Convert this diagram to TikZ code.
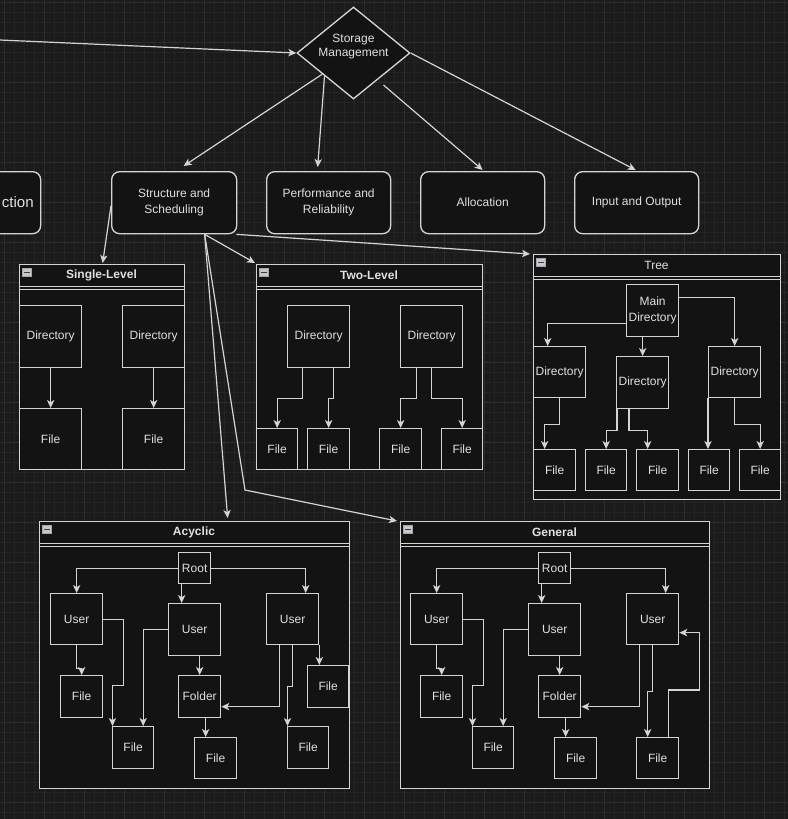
\documentclass[tikz,border=0pt]{standalone}
\usepackage{fontspec}
\setmainfont{Liberation Sans}
\usetikzlibrary{shapes.geometric,arrows.meta,calc}
\definecolor{bg}{HTML}{1B1B1B}
\definecolor{gridminor}{HTML}{242424}
\definecolor{gridmajor}{HTML}{2D2D2D}
\definecolor{fillc}{HTML}{131313}
\definecolor{linec}{HTML}{D4D4D4}
\definecolor{textc}{HTML}{E0E0E0}
\definecolor{iconc}{HTML}{C3C8D1}
\newcommand{\mkbox}[7][box]{\node[#1, minimum width=#5*0.75pt, minimum height=#6*0.75pt] (#2) at (#3,#4) {#7};}
\tikzset{
  every node/.style={text=textc, font=\fontsize{9}{10.8}\selectfont},
  box/.style={draw=linec, fill=fillc, line width=1pt, inner sep=0pt, anchor=north west, align=center},
  rbox/.style={box, rounded corners=6pt},
  cont/.style={draw=linec, fill=fillc, line width=1pt, anchor=north west, inner sep=0pt},
  hdr/.style={font=\bfseries\fontsize{9}{10.8}\selectfont},
  hdrn/.style={font=\fontsize{9}{10.8}\selectfont},
  sepl/.style={draw=linec, line width=0.65pt},
  icon/.style={rectangle, fill=iconc, draw=gray!70, line width=0.4pt, minimum width=6.5pt, minimum height=6pt, inner sep=0pt,
    path picture={\draw[black!75, line width=0.9pt] ($(path picture bounding box.west)+(1.3pt,0)$) -- ($(path picture bounding box.east)+(-1.3pt,0)$);}},
  arr/.style={draw=linec, line width=0.9pt, -{Stealth[length=6pt,width=5.5pt,inset=1.6pt]}},
}
\begin{document}
\begin{tikzpicture}[x=0.75pt,y=-0.75pt]
\useasboundingbox (0,0) rectangle (788,819);
\clip (0,0) rectangle (788,819);
\fill[bg] (0,0) rectangle (788,819);
\foreach \i in {4,14,...,788} \draw[gridminor, line width=0.4pt] (\i,0) -- (\i,819);
\foreach \j in {2,12,...,819} \draw[gridminor, line width=0.4pt] (0,\j) -- (788,\j);
\foreach \i in {4,44,...,788} \draw[gridmajor, line width=0.5pt] (\i,0) -- (\i,819);
\foreach \j in {2,42,...,819} \draw[gridmajor, line width=0.5pt] (0,\j) -- (788,\j);

% top diamond
\node[diamond, draw=linec, fill=fillc, line width=1pt, minimum width=113*0.75pt, minimum height=92*0.75pt, inner sep=0pt] (sm) at (353.5,53) {};
\node[align=center] (smt) at (353.5,46.5) {Storage\\Management};
\coordinate (inL) at (0,40);
\draw[arr] (inL) -- (sm.west);

% rounded boxes
\mkbox[rbox]{pm}{-85}{171}{125}{62}{}
\node[anchor=east, inner sep=0pt, font=\fontsize{11.3}{13}\selectfont] (pmt) at (34,202) {ction};
\mkbox[rbox]{ss}{111}{171}{125}{62}{Structure and\\[1pt]Scheduling}
\mkbox[rbox]{pr}{266}{171}{124}{62}{Performance and\\[1pt]Reliability}
\mkbox[rbox]{al}{420}{171}{124}{62}{Allocation}
\mkbox[rbox]{io}{574}{171}{124}{62}{Input and Output}

\draw[arr] ($(sm.center)+(-31,21)$) -- ($(ss.north)+(9.5,-5)$);
\draw[arr] ($(sm.center)+(-29,23)$) -- ($(pr.north)+(-11,-4)$);
\draw[arr] ($(sm.center)+(30,32)$) -- ($(al.north)+(0,-1)$);
\draw[arr] (sm.east) -- ($(io.north)+(-1,-1)$);

% Single-Level
\mkbox[cont]{sl}{19}{264}{165}{205}{}
\node[hdr] (slh) at (101.5,275.5) {Single-Level};
\draw[sepl] ($(sl.north west)+(0,22)$) -- ($(sl.north east)+(0,22)$);
\draw[sepl] ($(sl.north west)+(0,25)$) -- ($(sl.north east)+(0,25)$);
\node[icon] (sli) at ($(sl.north west)+(8,8.5)$) {};
\mkbox{sd1}{19}{305}{62}{62}{Directory}
\mkbox{sd2}{122}{305}{62}{62}{Directory}
\mkbox{sf1}{19}{408}{62}{61}{File}
\mkbox{sf2}{122}{408}{62}{61}{File}
\draw[arr] (sd1.south) -- (sf1.north);
\draw[arr] (sd2.south) -- (sf2.north);

% Two-Level
\mkbox[cont]{tl}{256}{264}{226}{205}{}
\node[hdr] (tlh) at (369,275.5) {Two-Level};
\draw[sepl] ($(tl.north west)+(0,22)$) -- ($(tl.north east)+(0,22)$);
\draw[sepl] ($(tl.north west)+(0,25)$) -- ($(tl.north east)+(0,25)$);
\node[icon] (tli) at ($(tl.north west)+(8,8.5)$) {};
\mkbox{td1}{287}{305}{62}{62}{Directory}
\mkbox{td2}{400}{305}{62}{62}{Directory}
\mkbox{tf1}{256}{428}{41}{41}{File}
\mkbox{tf2}{307}{428}{42}{41}{File}
\mkbox{tf3}{379}{428}{42}{41}{File}
\mkbox{tf4}{441}{428}{41}{41}{File}
\draw[arr] ($(td1.south)+(-16,0)$) -- ++(0,30) -| (tf1.north);
\draw[arr] ($(td1.south)+(15,0)$) -- ++(0,30) -| (tf2.north);
\draw[arr] ($(td2.south)+(-15,0)$) -- ++(0,30) -| (tf3.north);
\draw[arr] (td2.south) -- ++(0,30) -| (tf4.north);

% Tree
\mkbox[cont]{tr}{533}{254}{247}{245}{}
\node[hdrn] (trh) at (656.5,265.5) {Tree};
\draw[sepl] ($(tr.north west)+(0,22)$) -- ($(tr.north east)+(0,22)$);
\draw[sepl] ($(tr.north west)+(0,25)$) -- ($(tr.north east)+(0,25)$);
\node[icon] (tri) at ($(tr.north west)+(8,8.5)$) {};
\mkbox{md}{626}{284}{52}{52}{Main\\[1pt]Directory}
\mkbox{dl}{533}{346}{52}{51}{Directory}
\mkbox{dm}{616}{356}{52}{52}{Directory}
\mkbox{dr}{708}{346}{52}{51}{Directory}
\mkbox{tt1}{533}{449}{42}{41}{File}
\mkbox{tt2}{585}{449}{41}{41}{File}
\mkbox{tt3}{636}{449}{42}{41}{File}
\mkbox{tt4}{688}{449}{41}{41}{File}
\mkbox{tt5}{739}{449}{41}{41}{File}
\draw[arr] ($(md.west)+(0,13)$) -| ($(dl.north)+(-12,0)$);
\draw[arr] ($(md.south)+(-10,0)$) -- (dm.north);
\draw[arr] ($(md.east)+(0,-13)$) -| (dr.north);
\draw[arr] (dl.south) -- ++(0,26) -| ($(tt1.north)+(-10,0)$);
\draw[arr] ($(dm.south west)+(1,0)$) -- ++(0,21) -| (tt2.north);
\draw[arr] ($(dm.south west)+(13,0)$) -- ++(0,21) -| ($(tt3.north)+(-10,0)$);
\draw[arr] (dr.south west) -- (dr.south west |- tt4.north);
\draw[arr] (dr.south) -- ++(0,26) -| (tt5.north);

% Acyclic
\mkbox[cont]{ac}{39}{521}{310}{267}{}
\node[hdr] (ach) at (194,532.5) {Acyclic};
\draw[sepl] ($(ac.north west)+(0,22)$) -- ($(ac.north east)+(0,22)$);
\draw[sepl] ($(ac.north west)+(0,25)$) -- ($(ac.north east)+(0,25)$);
\node[icon] (aci) at ($(ac.north west)+(8,8.5)$) {};
\mkbox{ar}{178}{552}{32}{31}{Root}
\mkbox{au1}{50}{593}{52}{51}{User}
\mkbox{au2}{168}{603}{52}{52}{User}
\mkbox{au3}{266}{593}{52}{51}{User}
\mkbox{afa}{60}{675}{42}{42}{File}
\mkbox{afb}{112}{726}{41}{42}{File}
\mkbox{afo}{178}{675}{42}{42}{Folder}
\mkbox{afc}{194}{737}{42}{41}{File}
\mkbox{afd}{307}{665}{41}{42}{File}
\mkbox{afe}{287}{726}{41}{42}{File}
\draw[arr] (ar.west) -| (au1.north);
\draw[arr] ($(ar.south)+(-13,0)$) -- ($(au2.north)+(-13,0)$);
\draw[arr] (ar.east) -| ($(au3.north)+(13,0)$);
\draw[arr] (au1.south) -- ++(0,23) -| (afa.north);
\draw[arr] (au1.east) -- ++(20,0) -- ++(0,66) -| ($(afb.north west)+(0.5,0)$);
\draw[arr] (au2.west) -| ($(afb.north)+(10,0)$);
\draw[arr] ($(au2.south)+(5,0)$) -- (afo.north);
\draw[arr] ($(afo.south)+(6,0)$) -- ($(afc.north)+(-10,0)$);
\draw[arr] ($(au3.south)+(-13,0)$) |- ($(afo.east)+(0,10)$);
\draw[arr] (au3.south) -- ++(0,41) -| ($(afe.north west)+(0.5,0)$);
\draw[arr] (au3.south east) -- (au3.south east |- afd.north);

% General
\mkbox[cont]{ge}{400}{521}{309}{267}{}
\node[hdr] (geh) at (554.5,532.5) {General};
\draw[sepl] ($(ge.north west)+(0,22)$) -- ($(ge.north east)+(0,22)$);
\draw[sepl] ($(ge.north west)+(0,25)$) -- ($(ge.north east)+(0,25)$);
\node[icon] (gei) at ($(ge.north west)+(8,8.5)$) {};
\mkbox{gr}{538}{552}{32}{31}{Root}
\mkbox{gu1}{410}{593}{52}{51}{User}
\mkbox{gu2}{528}{603}{52}{52}{User}
\mkbox{gu3}{626}{593}{52}{51}{User}
\mkbox{gfa}{420}{675}{42}{42}{File}
\mkbox{gfb}{472}{726}{41}{42}{File}
\mkbox{gfo}{538}{675}{42}{42}{Folder}
\mkbox{gfc}{554}{737}{42}{41}{File}
\mkbox{gfe}{636}{737}{42}{41}{File}
\draw[arr] (gr.west) -| (gu1.north);
\draw[arr] ($(gr.south)+(-13,0)$) -- ($(gu2.north)+(-13,0)$);
\draw[arr] (gr.east) -| ($(gu3.north)+(13,0)$);
\draw[arr] (gu1.south) -- ++(0,23) -| (gfa.north);
\draw[arr] (gu1.east) -- ++(20,0) -- ++(0,66) -| ($(gfb.north west)+(0.5,0)$);
\draw[arr] (gu2.west) -| ($(gfb.north)+(10,0)$);
\draw[arr] ($(gu2.south)+(5,0)$) -- (gfo.north);
\draw[arr] ($(gfo.south)+(6,0)$) -- ($(gfc.north)+(-10,0)$);
\draw[arr] ($(gu3.south)+(-13,0)$) |- ($(gfo.east)+(0,10)$);
\draw[arr] (gu3.south) -- ++(0,46) -| ($(gfe.north)+(-10,0)$);
\draw[arr] ($(gfe.north)+(11,0)$) -- ++(0,-47) -- ++(31,0) |- ($(gu3.east)+(0,13.5)$);

% connectors from Structure and Scheduling
\coordinate (bend) at (245,490);
\draw[arr] ($(ss.west)+(0,3)$) -- ($(sl.north)+(0.5,-1)$);
\draw[arr] ($(ss.south)+(30.5,0)$) -- ($(tl.north west)+(-1,-1)$);
\draw[arr] ($(ss.south east)+(-1,0)$) -- ($(tr.north west)+(-3,0)$);
\draw[arr] ($(ss.south)+(30.5,0)$) -- ($(ac.north)+(33,-3)$);
\draw[arr] ($(ss.south)+(30.5,0)$) -- (bend) -- ($(ge.north west)+(-3,0)$);
\end{tikzpicture}
\end{document}
